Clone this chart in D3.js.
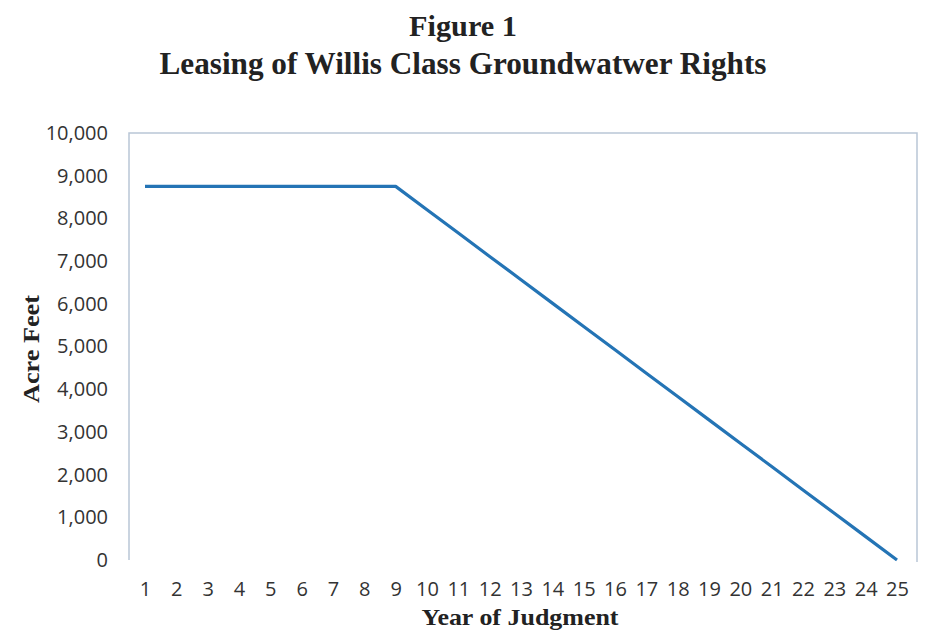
<!DOCTYPE html>
<html>
<head>
<meta charset="utf-8">
<script src="https://cdn.jsdelivr.net/npm/d3@7"></script>
<style>
  html, body { margin: 0; padding: 0; background: #fff; }
  svg { display: block; }
</style>
</head>
<body>
<svg id="chart" width="927" height="632"></svg>
<script>
// ---- data ----
const years = [1,2,3,4,5,6,7,8,9,10,11,12,13,14,15,16,17,18,19,20,21,22,23,24,25];
const acreFeet = [8750,8750,8750,8750,8750,8750,8750,8750,8750,
                  8203,7656,7109,6563,6016,5469,4922,4375,3828,3281,2734,2188,1641,1094,547,0];
const yTicks = [0,1000,2000,3000,4000,5000,6000,7000,8000,9000,10000];
const titleLines = ["Figure 1", "Leasing of Willis Class Groundwatwer Rights"];
const xTitle = "Year of Judgment";
const yTitle = "Acre Feet";

// ---- layout ----
const svg = d3.select("#chart");
const plot = { left: 129, right: 917, top: 133, bottom: 560 };

const x = d3.scalePoint()
  .domain(years)
  .range([145, 897]);
const y = d3.scaleLinear()
  .domain([0, 10000])
  .range([plot.bottom, plot.top]);

const serif = "'Liberation Serif', 'Times New Roman', serif";
const sans = "'Open Sans', 'Noto Sans', sans-serif";

// plot border (left, top, right)
svg.append("path")
  .attr("d", `M${plot.left},${plot.bottom}V${plot.top}H${plot.right}V${plot.bottom + 2}`)
  .attr("fill", "none")
  .attr("stroke", "#b9c6d6")
  .attr("stroke-width", 1.5);

// y axis
const yAxis = svg.append("g")
  .attr("transform", `translate(${plot.left},0)`)
  .call(d3.axisLeft(y).tickValues(yTicks).tickFormat(d3.format(",")).tickSize(0).tickPadding(21));
yAxis.select(".domain").remove();
yAxis.selectAll("text")
  .attr("font-family", sans)
  .attr("font-size", 20)
  .attr("fill", "#333");

// x axis
const xAxis = svg.append("g")
  .attr("transform", `translate(0,${plot.bottom})`)
  .call(d3.axisBottom(x).tickSize(0).tickPadding(22));
xAxis.select(".domain").remove();
xAxis.selectAll("text")
  .attr("font-family", sans)
  .attr("font-size", 20)
  .attr("fill", "#333");

// line
const line = d3.line()
  .x((d, i) => x(years[i]))
  .y(d => y(d));
svg.append("path")
  .datum(acreFeet)
  .attr("d", line)
  .attr("fill", "none")
  .attr("stroke", "#2474b5")
  .attr("stroke-width", 3.2)
  .attr("stroke-linejoin", "round");

// titles: font size from cap height, then horizontal squeeze to target width
function label(txt, cx, cy, size, width, rotate) {
  const g = svg.append("g")
    .attr("transform", `translate(${cx},${cy})` + (rotate ? ` rotate(${rotate})` : ""));
  const t = g.append("text")
    .attr("text-anchor", "middle")
    .attr("font-family", serif).attr("font-weight", "bold")
    .attr("font-size", size).attr("fill", "#222")
    .text(txt);
  const w = t.node().getComputedTextLength();
  t.attr("transform", `scale(${width / w},1)`);
}
label(titleLines[0], 463, 36, 30, 108);
label(titleLines[1], 463, 74, 32, 607);
label(xTitle, 520, 625, 24, 197);
label(yTitle, 39, 349, 24, 108, -90);
</script>
</body>
</html>
